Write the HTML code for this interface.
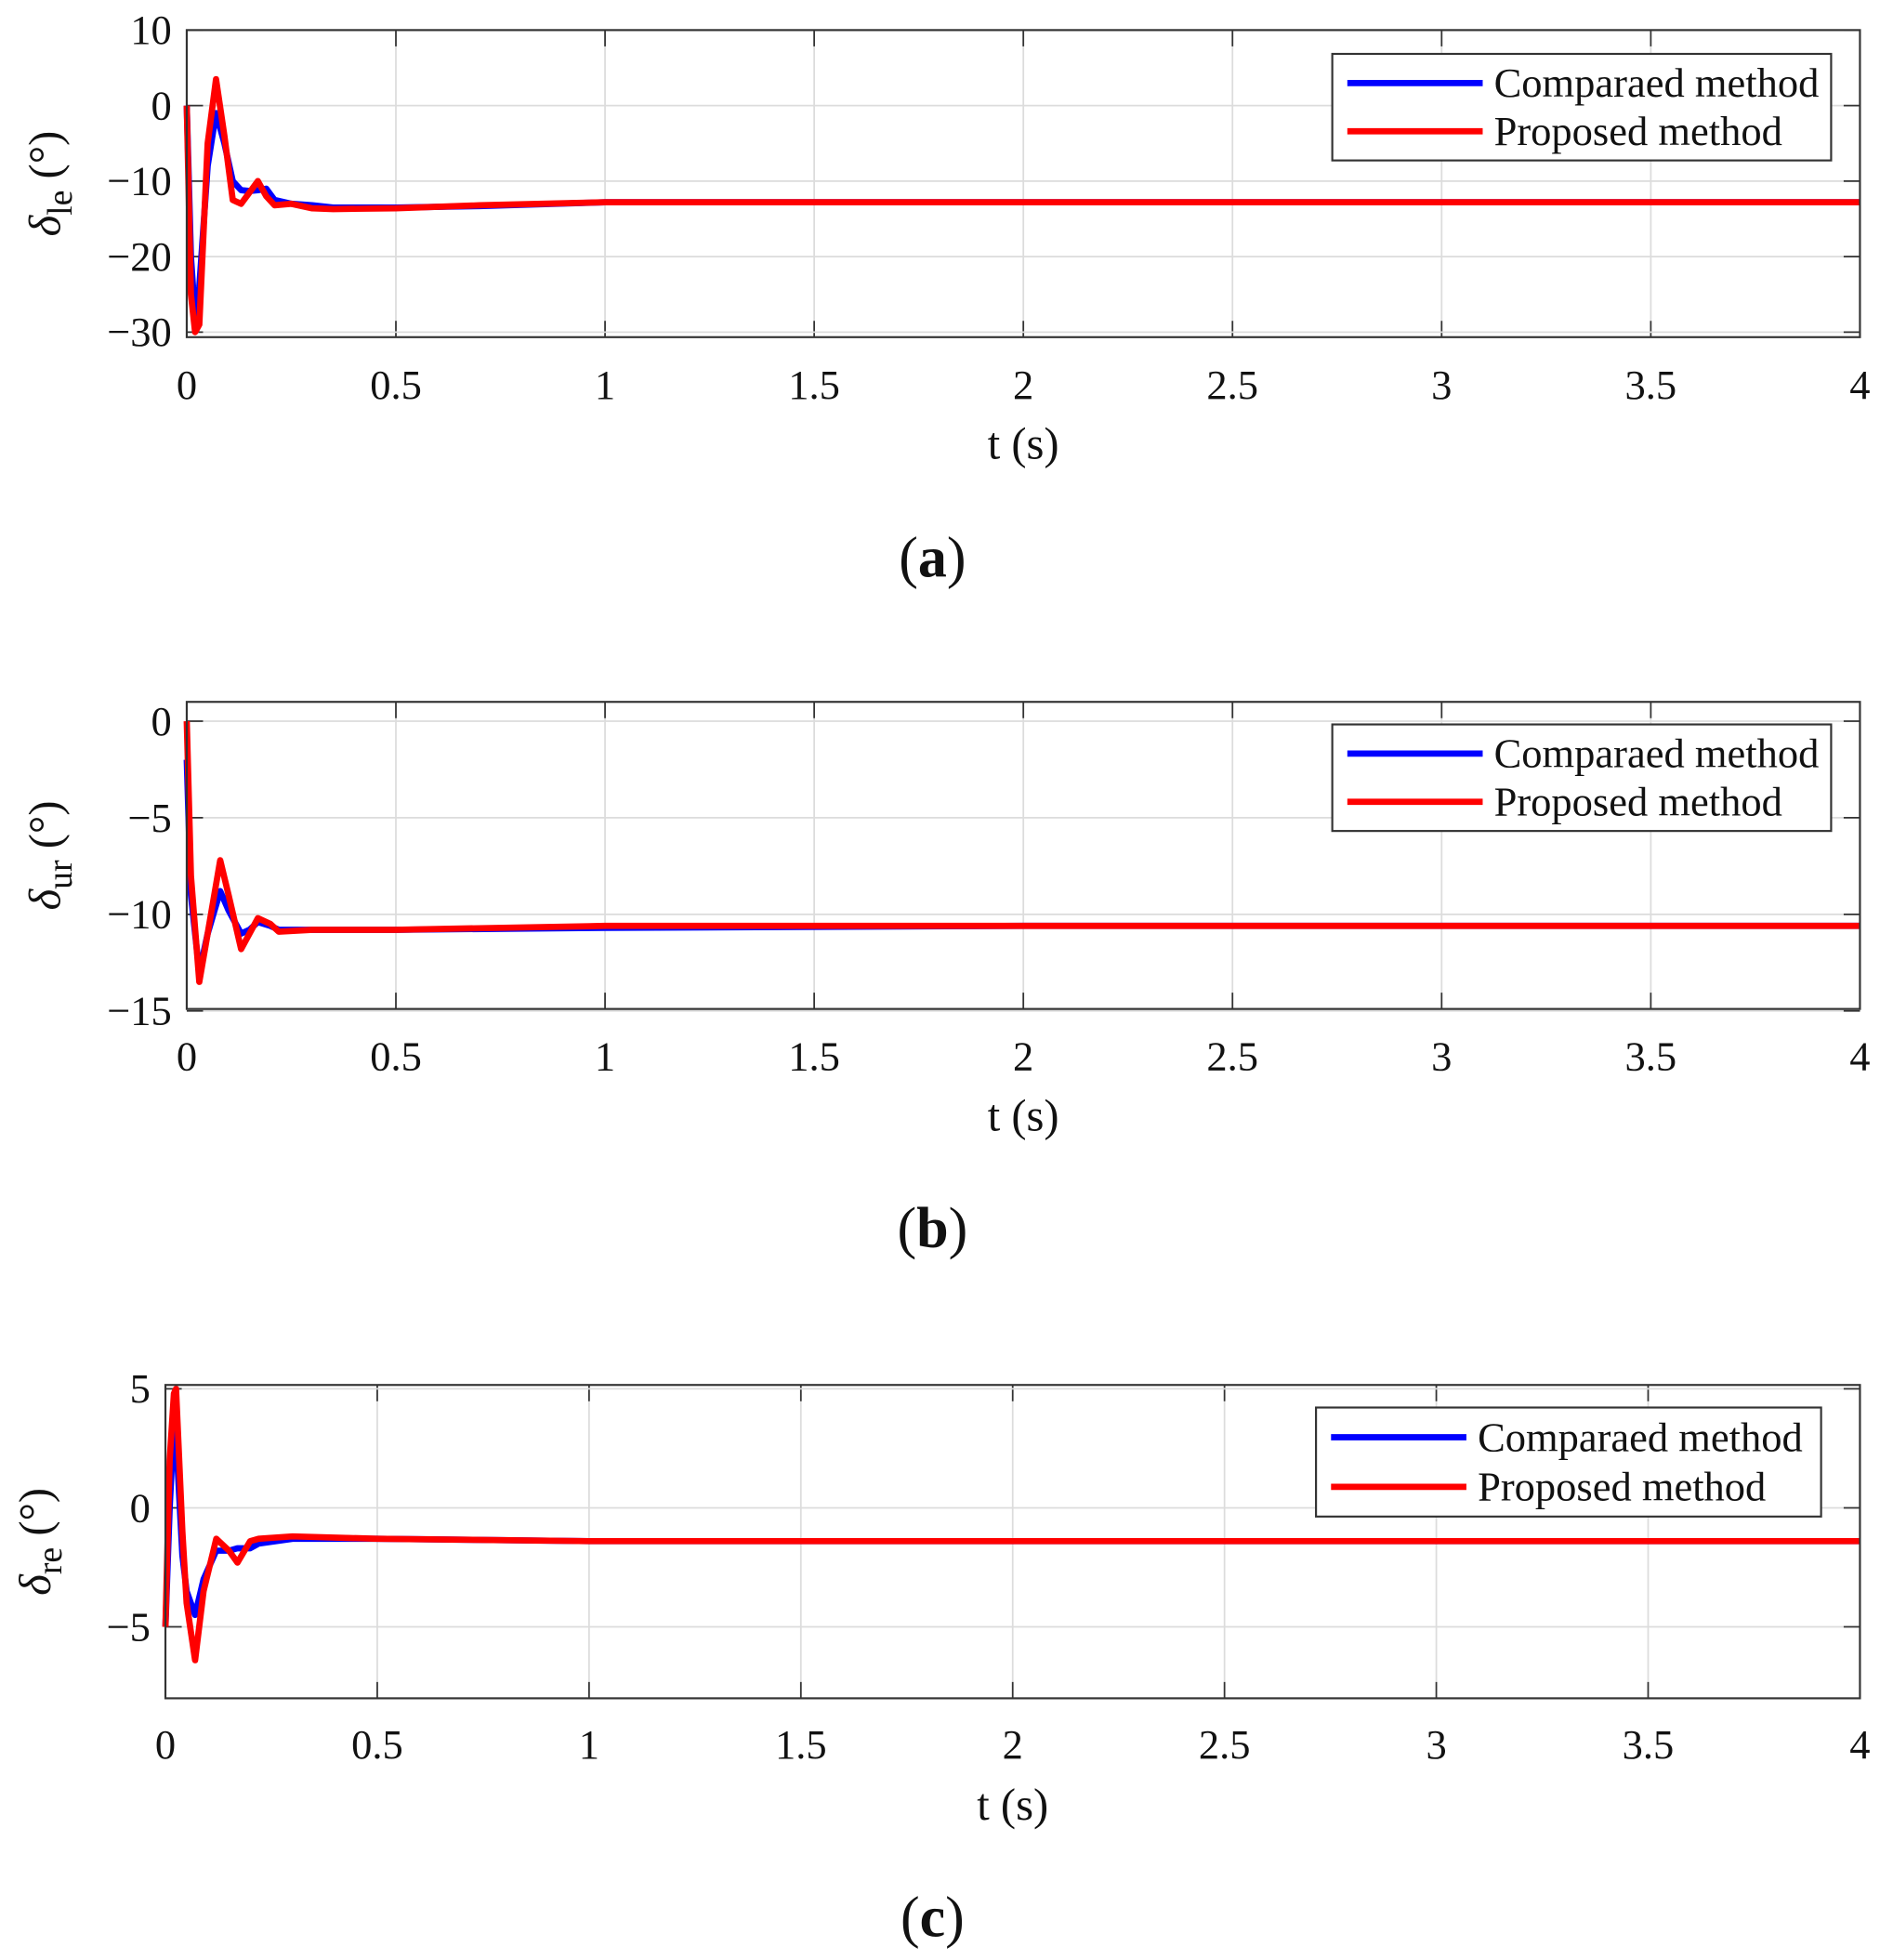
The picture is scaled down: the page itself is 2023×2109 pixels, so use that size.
<!DOCTYPE html>
<html><head><meta charset="utf-8">
<style>
html,body{margin:0;padding:0;background:#fff;}
svg{display:block;}
text{font-family:"Liberation Serif","DejaVu Serif",serif;fill:#111;}
</style></head>
<body>
<svg id="fig" width="2023" height="2109" viewBox="0 0 1500 1563.8" preserveAspectRatio="none" xmlns="http://www.w3.org/2000/svg"></svg>
<script>
// ---- data ----
const xTicks = [0,0.5,1,1.5,2,2.5,3,3.5,4];
const xTickLabels = ["0","0.5","1","1.5","2","2.5","3","3.5","4"];
const seriesNames = ["Comparaed method","Proposed method"];

const aTime = [0,0.01,0.02,0.03,0.05,0.07,0.09,0.11,0.13,0.15,0.17,0.19,0.21,0.25,0.3,0.35,0.5,0.7,1,2,3,4];
const aBlue = [0,-20,-28,-24,-8,-1,-5,-10,-11.2,-11.3,-11.2,-11,-12.5,-13,-13.2,-13.5,-13.5,-13.3,-12.8,-12.8,-12.8,-12.8];
const aRed  = [0,-25,-30,-29,-5,3.5,-4,-12.5,-13,-11.5,-10,-12,-13.2,-13,-13.6,-13.7,-13.6,-13.2,-12.8,-12.8,-12.8,-12.8];
const aYTicks = [10,0,-10,-20,-30];
const aYTickLabels = ["10","0","\u221210","\u221220","\u221230"];

const bTime = [0,0.01,0.03,0.05,0.08,0.1,0.13,0.15,0.17,0.2,0.22,0.3,0.5,1,2,3,4];
const bBlue = [-2,-9,-13,-11,-8.8,-9.8,-11,-10.8,-10.4,-10.6,-10.8,-10.8,-10.8,-10.7,-10.6,-10.6,-10.6];
const bRed  = [0,-8,-13.5,-11,-7.2,-9,-11.8,-11,-10.2,-10.5,-10.9,-10.8,-10.8,-10.6,-10.6,-10.6,-10.6];
const bYTicks = [0,-5,-10,-15];
const bYTickLabels = ["0","\u22125","\u221210","\u221215"];

const cTime = [0,0.01,0.02,0.025,0.04,0.05,0.07,0.09,0.12,0.15,0.17,0.2,0.22,0.3,0.5,1,2,3,4];
const cBlue = [-5,0,3.5,3,-2,-3.5,-4.5,-3,-1.8,-1.8,-1.7,-1.7,-1.5,-1.3,-1.3,-1.4,-1.4,-1.4,-1.4];
const cRed  = [-5,2,4.8,5,-1,-4,-6.4,-3.5,-1.3,-1.8,-2.3,-1.4,-1.3,-1.2,-1.3,-1.4,-1.4,-1.4,-1.4];
const cYTicks = [5,0,-5];
const cYTickLabels = ["5","0","\u22125"];

const NS="http://www.w3.org/2000/svg";
const svg=document.getElementById('fig');
function mk(tag,attrs,parent){const e=document.createElementNS(NS,tag);for(const k in attrs)e.setAttribute(k,attrs[k]);(parent||svg).appendChild(e);return e;}

function panel(cfg){
  const g=mk('g',{});
  
  
  const {L,R,T,B,ymin,ymax}=cfg;
  const sx=v=>L+(v-0)/(4-0)*(R-L);
  const sy=v=>B-(v-ymin)/(ymax-ymin)*(B-T);
  xTicks.forEach((t,i)=>{
    const gl=mk('line',{x1:sx(t),x2:sx(t),y1:T,y2:B,stroke:'#dcdcdc','stroke-width':1.3},g);
    
    
    mk('line',{x1:sx(t),x2:sx(t),y1:B,y2:B-13,stroke:'#333','stroke-width':1.3},g);
    mk('line',{x1:sx(t),x2:sx(t),y1:T,y2:T+13,stroke:'#333','stroke-width':1.3},g);
    const tl=mk('text',{x:sx(t),y:cfg.xLabY,'text-anchor':'middle','font-size':33},g);
    tl.textContent=xTickLabels[i];
    
    
  });
  cfg.yTicks.forEach((t,i)=>{
    const gl=mk('line',{x1:L,x2:R,y1:sy(t),y2:sy(t),stroke:'#dcdcdc','stroke-width':1.3},g);
    
    
    mk('line',{x1:L,x2:L+13,y1:sy(t),y2:sy(t),stroke:'#333','stroke-width':1.3},g);
    mk('line',{x1:R,x2:R-13,y1:sy(t),y2:sy(t),stroke:'#333','stroke-width':1.3},g);
    const tl=mk('text',{x:L-12,y:sy(t)+11,'text-anchor':'end','font-size':33},g);
    tl.textContent=cfg.yTickLabels[i];
    
    
  });
  const line=(ys,col,nm)=>{
    const p=mk('polyline',{points:cfg.time.map((t,i)=>sx(t)+','+sy(ys[i])).join(' '),fill:'none',stroke:col,'stroke-width':5,'stroke-linejoin':'round'},g);
    
    
  };
  line(cfg.blue,'#0000ff','compared-method-line');
  line(cfg.red,'#ff0000','proposed-method-line');
  const fr=mk('rect',{x:L,y:T,width:R-L,height:B-T,fill:'none',stroke:'#333','stroke-width':1.6},g);
  
  
  const lg=mk('g',{},g);
  
  
  const [lx1,ly1,lx2,ly2]=cfg.leg;
  mk('rect',{x:lx1,y:ly1,width:lx2-lx1,height:ly2-ly1,fill:'#fff',stroke:'#333','stroke-width':1.6},lg);
  const rowH=(ly2-ly1)/2;
  seriesNames.forEach((n,i)=>{
    const yy=ly1+rowH*(i+0.5)+(i===0?2:-2);
    mk('line',{x1:lx1+12,x2:lx1+120,y1:yy,y2:yy,stroke:i?'#ff0000':'#0000ff','stroke-width':5},lg);
    const t=mk('text',{x:lx1+129,y:yy+11,'font-size':33},lg);
    t.textContent=n;
    
    
  });
  const xl=mk('text',{x:(L+R)/2,y:cfg.xTitleY,'text-anchor':'middle','font-size':36},g);
  xl.textContent='t (s)';
  
  
  const yl=mk('text',{transform:`translate(${cfg.yTitleX},${(T+B)/2}) rotate(-90)`,'text-anchor':'middle','font-size':36},g);
  yl.innerHTML=`<tspan font-style="italic">δ</tspan><tspan dy="9" font-size="28">${cfg.sub}</tspan><tspan dy="-9"> (°)</tspan>`;
  
  
  const cap=mk('text',{x:744,y:cfg.capY,'text-anchor':'middle','font-size':46},g);
  cap.innerHTML='(<tspan font-weight="bold">'+cfg.cap+'</tspan>)';
  
  
}

panel({name:'panel-a',L:149,R:1484,T:24,B:269,ymin:-30.66,ymax:10,time:aTime,blue:aBlue,red:aRed,
  yTicks:aYTicks,yTickLabels:aYTickLabels,xLabY:318,xTitleY:366,yTitleX:48,sub:'le',capY:460,cap:'a',leg:[1063,43,1461,128]});
panel({name:'panel-b',L:149,R:1484,T:560,B:805,ymin:-14.9,ymax:1.0,time:bTime,blue:bBlue,red:bRed,
  yTicks:bYTicks,yTickLabels:bYTickLabels,xLabY:854,xTitleY:902,yTitleX:48,sub:'ur',capY:995,cap:'b',leg:[1063,578,1461,663]});
panel({name:'panel-c',L:132,R:1484,T:1105,B:1355,ymin:-8,ymax:5.16,time:cTime,blue:cBlue,red:cRed,
  yTicks:cYTicks,yTickLabels:cYTickLabels,xLabY:1403,xTitleY:1452,yTitleX:40,sub:'re',capY:1545,cap:'c',leg:[1050,1123,1453,1210]});
</script>
</body></html>
